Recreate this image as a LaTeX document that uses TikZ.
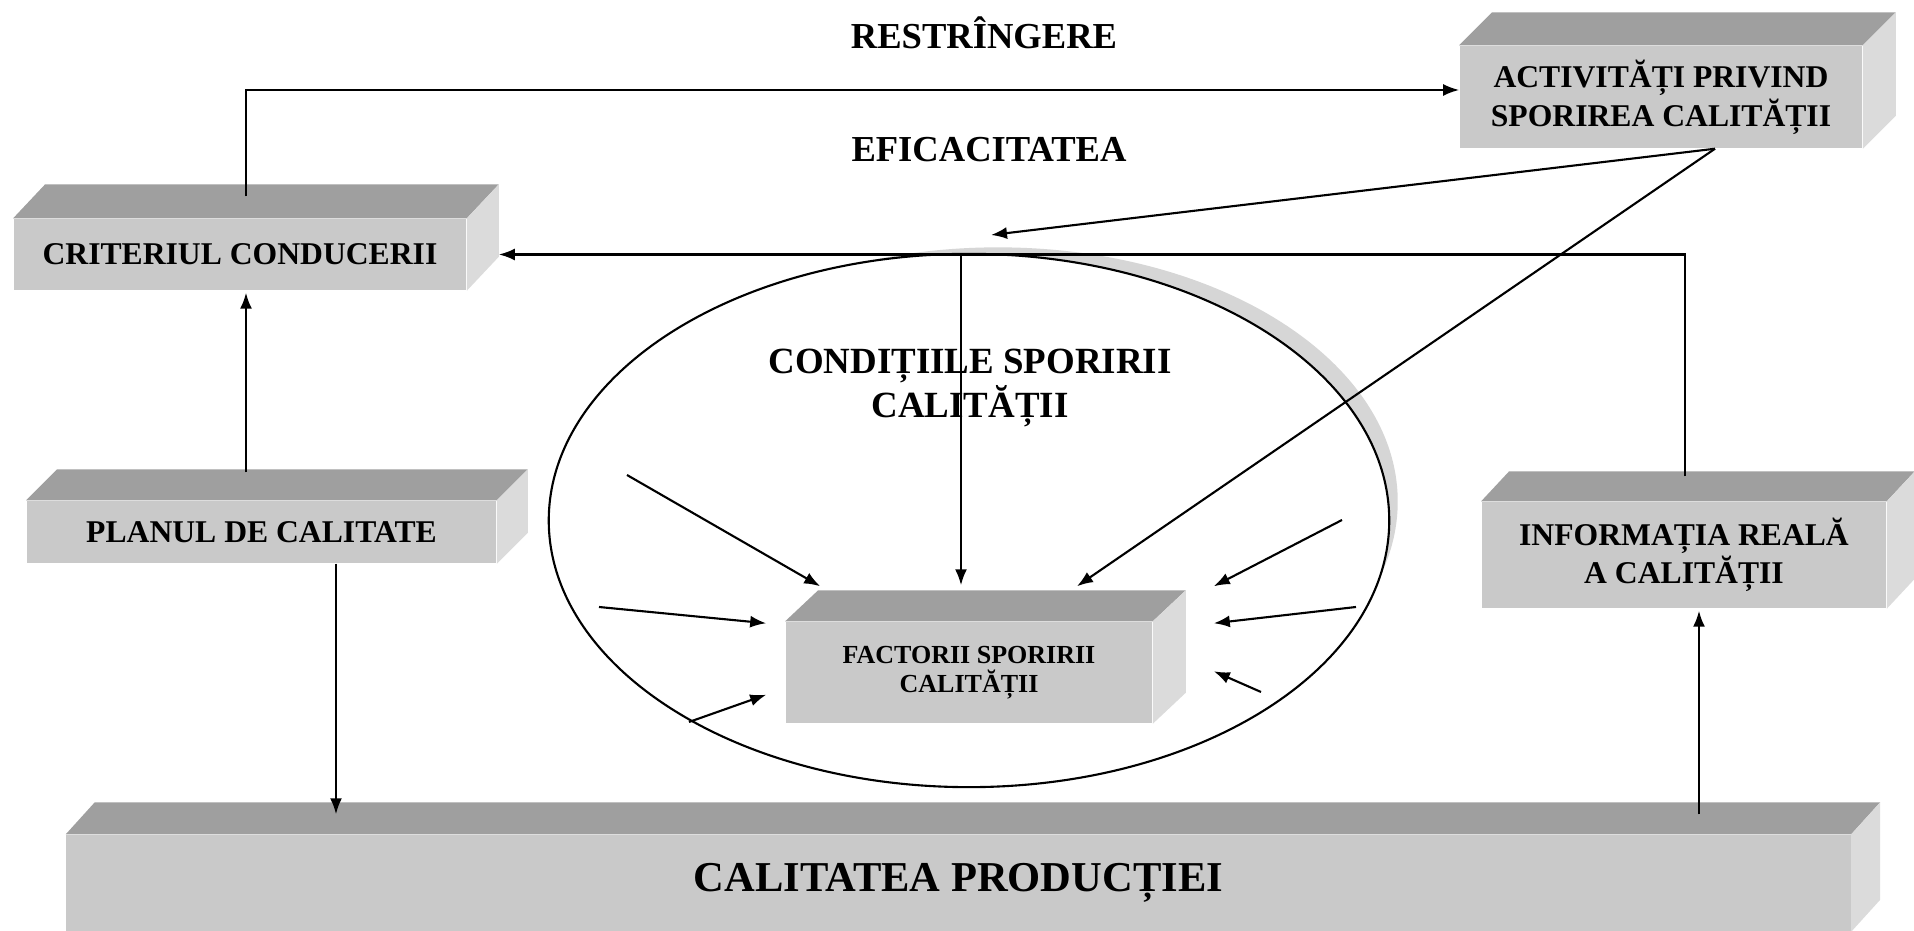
\documentclass[tikz,border=0pt]{standalone}
\usepackage{fontspec}
\setmainfont{Liberation Serif}
\usetikzlibrary{arrows.meta,shapes.geometric}
\definecolor{topg}{HTML}{9F9F9F}
\definecolor{frontg}{HTML}{C9C9C9}
\definecolor{sideg}{HTML}{DBDBDB}
\definecolor{shadg}{HTML}{D6D6D6}
\newcommand\boxfaces[3]{%
  \fill[topg] (#1.north west) -- ++(#2,-#3) -- ([shift={(#2,-#3)}]#1.north east) -- (#1.north east) -- cycle;
  \fill[sideg] (#1.north east) -- ++(#2,-#3) -- ([shift={(#2,-#3)}]#1.south east) -- (#1.south east) -- cycle;
}
\tikzset{
  face/.style={rectangle, fill=frontg, inner sep=0pt, align=center, text=black},
  arr/.style={line width=0.6pt, -{Latex[length=0.16cm,width=0.12cm]}},
  lbl/.style={inner sep=0pt, align=center, text=black},
  fA/.style={font=\fontsize{10.4}{12}\selectfont\bfseries},
  fB/.style={font=\fontsize{9}{9.7}\selectfont\bfseries},
  fC/.style={font=\fontsize{9}{10.8}\selectfont\bfseries},
  fD/.style={font=\fontsize{10.5}{12.5}\selectfont\bfseries},
  fE/.style={font=\fontsize{7.4}{8.3}\selectfont\bfseries},
  fF/.style={font=\fontsize{12.1}{14}\selectfont\bfseries}
}
\begin{document}
\begin{tikzpicture}[x=0.01cm,y=-0.01cm]
\useasboundingbox (0,0) rectangle (1914,931);
\fill[white] (0,0) rectangle (1914,931);

% shadow of the ellipse (tapered crescent on the upper right)
\fill[shadg] (998,501.5) ellipse [x radius=3.995cm, y radius=2.54cm];
\node[draw, fill=white, ellipse, line width=0.6pt, minimum width=8.4cm, minimum height=5.33cm, inner sep=0pt] (ell) at (969,520.5) {};

% boxes
\node[face, fB, minimum width=4.52cm, minimum height=0.71cm] (crit) at (240,254.5) {CRITERIUL CONDUCERII};
\boxfaces{crit}{32}{34}
\node[face, fB, minimum width=4.69cm, minimum height=0.62cm] (plan) at (261.5,532) {PLANUL DE CALITATE};
\boxfaces{plan}{31}{31}
\node[face, fB, minimum width=4.02cm, minimum height=1.02cm] (activ) at (1661,97) {ACTIVITĂȚI PRIVIND\\SPORIREA CALITĂȚII};
\boxfaces{activ}{33}{33}
\node[face, fE, minimum width=3.66cm, minimum height=1.01cm] (fact) at (969,672.5) {FACTORII SPORIRII\\CALITĂȚII};
\boxfaces{fact}{33}{31}
\node[face, fC, minimum width=4.04cm, minimum height=1.06cm] (info) at (1684,555) {INFORMAȚIA REALĂ\\A CALITĂȚII};
\boxfaces{info}{28}{30}
\node[face, fF, minimum width=17.83cm, minimum height=0.96cm] (calit) at (958.5,883) {CALITATEA PRODUCȚIEI};
\boxfaces{calit}{29}{32}

% free labels
\node[lbl, fA] (restr) at (984,33) {RESTRÎNGERE};
\node[lbl, fA] (efic) at (989,150) {EFICACITATEA};
\node[lbl, fD] (cond) at (970,388) {CONDIȚIILE SPORIRII\\CALITĂȚII};

% connectors
\draw[arr] ([shift={(6,-22)}]crit.north) |- ([shift={(0,-7)}]activ.west);
\draw[arr] ([shift={(-15.5,-28)}]plan.north) -- ([shift={(6,2)}]crit.south);
\draw[arr] ([shift={(74.5,0)}]plan.south) -- ([shift={(-622.5,-20)}]calit.north);
\draw[arr] ([shift={(740.5,-20)}]calit.north) -- ([shift={(15,2)}]info.south);
\draw[arr] ([shift={(1,-25)}]info.north) |- ([shift={(32,0)}]crit.east);
\path (fact.north) ++(-8,0) coordinate (fn);
\coordinate (hj) at (fn |- crit.east);
\draw[arr] (hj) -- ([shift={(-8,-36)}]fact.north);
\coordinate (ctop) at (991,235);
\draw[arr] ([shift={(54,0)}]activ.south) -- (ctop);
\draw[arr] ([shift={(54,0)}]activ.south) -- ([shift={(108,-35)}]fact.north);

% small arrows towards the factors
\coordinate (sa1) at (627,475);
\coordinate (sa2) at (599,607);
\coordinate (sa3) at (689,722);
\coordinate (sb1) at (1342,520);
\coordinate (sb2) at (1356,607);
\coordinate (sb3) at (1261,692);
\draw[arr] (sa1) -- ([shift={(35,-35)}]fact.north west);
\draw[arr] (sa2) -- ([shift={(-19,2)}]fact.north west);
\draw[arr] (sa3) -- ([shift={(-19,-29)}]fact.south west);
\draw[arr] (sb1) -- ([shift={(61,-35)}]fact.north east);
\draw[arr] (sb2) -- ([shift={(61,2)}]fact.north east);
\draw[arr] (sb3) -- ([shift={(61,50)}]fact.north east);
\end{tikzpicture}
\end{document}
